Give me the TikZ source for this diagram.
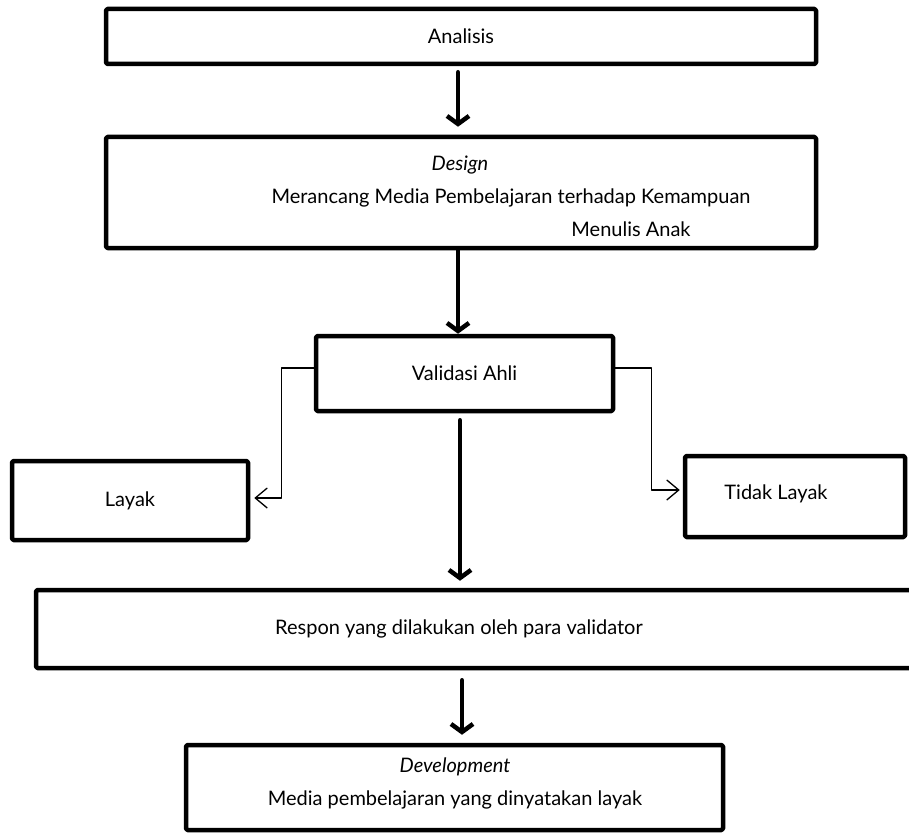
\documentclass[tikz,border=0pt]{standalone}
\usepackage{fontspec}
\setmainfont{Lato}
\usetikzlibrary{arrows.meta, calc}

\begin{document}
\begin{tikzpicture}[x=1pt, y=-1pt, line cap=round, line join=round,
	font=\fontsize{20}{24}\selectfont,
	box/.style={draw, line width=4.5pt, rounded corners=1.5pt, inner sep=0pt},
	flow/.style={line width=4.5pt, -{Straight Barb[length=8pt,width=22pt]}},
	split/.style={line width=1.3pt, -{Straight Barb[length=12pt,width=20pt]}}]

\useasboundingbox (0,0) rectangle (909,834);
\clip (0,0) rectangle (909,834);

%========================
% boxes
%========================
\node[box, minimum width=710pt, minimum height=55pt] (analisis) at (461,36.5) {Analisis};

\node[box, minimum width=710pt, minimum height=111pt] (design) at (461,192.5) {};
\node (designtitle) at (460,165) {\itshape Design};
\node (designline) at (511,198) {Merancang Media Pembelajaran terhadap Kemampuan};
\node (designline2) at (631,229) {Menulis Anak};

\node[box, minimum width=297pt, minimum height=75pt] (validasi) at (464.5,373.5) {Validasi Ahli};

\node[box, minimum width=236pt, minimum height=79pt] (layak) at (130,500.5) {Layak};
\node[box, minimum width=220pt, minimum height=81pt] (tidak) at (795,496.5) {};
\node (tidaktext) at (776,494) {Tidak Layak};

% the response box runs past the right edge
\node[box, minimum width=940pt, minimum height=78pt] (respon) at (506,629) {};
\node (respontext) at (459,629) {Respon yang dilakukan oleh para validator};

\node[box, minimum width=537pt, minimum height=85pt] (development) at (454.5,787.5) {};
\node (devtitle) at (455,767) {\itshape Development};
\node (devline) at (455,800) {Media pembelajaran yang dinyatakan layak};

%========================
% arrows
%========================
\draw[flow, shorten <=6pt, shorten >=8pt] ([xshift=-3pt]analisis.south) -- ([xshift=-3pt]design.north);
\draw[flow] ([xshift=-3pt]design.south) -- ([xshift=-6.5pt]validasi.north);
\draw[flow, shorten <=7pt, shorten >=7pt] ([xshift=-4.5pt]validasi.south) -- ([xshift=-46pt]respon.north);
\draw[flow, shorten <=10pt, shorten >=8pt] ([xshift=-44pt]respon.south) -- ([xshift=7.5pt]development.north);

% split to Layak / Tidak Layak
\draw[split, shorten >=4pt] ([yshift=5.5pt]validasi.west) -- ++(-32,0) |- ([yshift=2.5pt]layak.east);
\draw[split, shorten >=3pt] ([yshift=5.5pt]validasi.east) -- ++(36,0) |- ([yshift=6.5pt]tidak.west);

\end{tikzpicture}
\end{document}
